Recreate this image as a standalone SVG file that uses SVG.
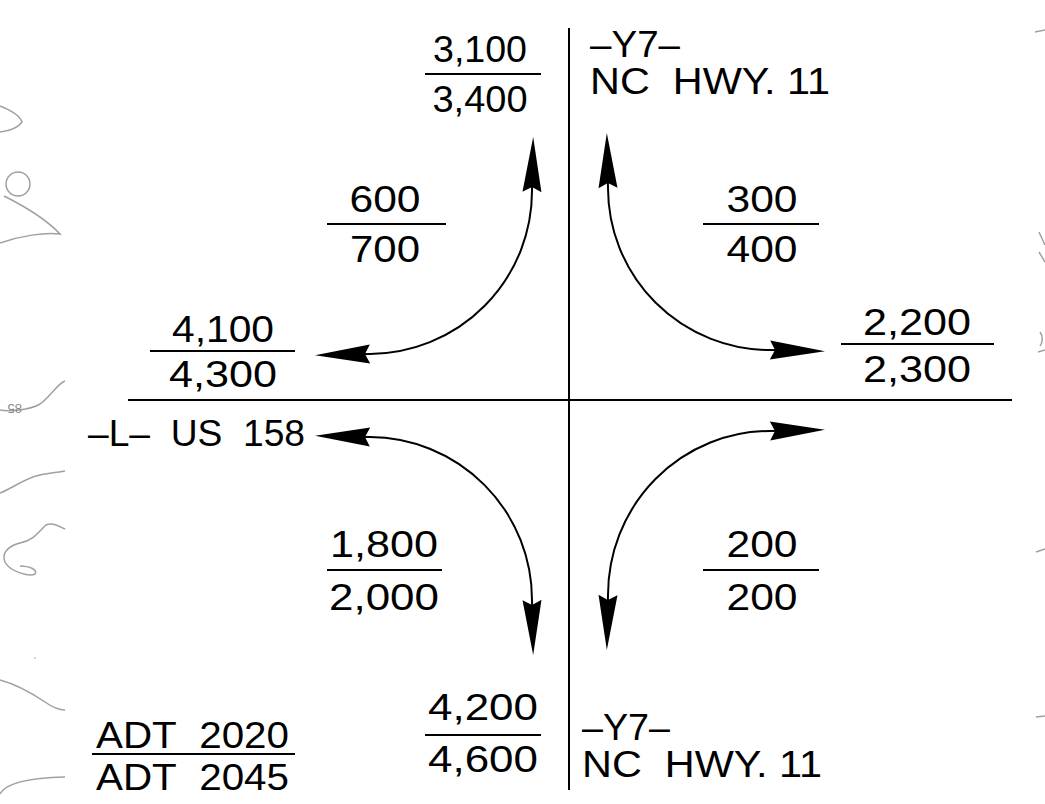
<svg xmlns="http://www.w3.org/2000/svg" width="1045" height="804" viewBox="0 0 1045 804">
<style>
text{font-family:"Liberation Sans",Arial,sans-serif;font-size:37px;fill:#000}
.c{text-anchor:middle}
.rule{stroke:#000;stroke-width:2;fill:none}
.road{stroke:#000;stroke-width:2;fill:none}
.flow{stroke:#000;stroke-width:2;fill:none;marker-start:url(#ah);marker-end:url(#ah)}
.topo{stroke:#a0a0a0;stroke-width:1.5;fill:none}
.topot{font-size:13px;fill:#8a8a8a}
</style>
<defs>
<marker id="ah" markerUnits="userSpaceOnUse" markerWidth="56" markerHeight="20" refX="47" refY="10" orient="auto-start-reverse" overflow="visible">
<path d="M55,10 L0,0.5 L5,10 L0,19.5 Z" fill="#000"/>
</marker>
</defs>
<rect width="1045" height="804" fill="#fff"/>
<g id="topo">
<path class="topo" d="M0,106 C10,110 20,116 22,122 C18,128 8,131 0,132"/>
<circle class="topo" cx="18" cy="184" r="12"/>
<path class="topo" d="M4,196 C20,204 45,218 60,234 C45,232 20,236 0,243"/>
<path class="topo" d="M0,410 C8,412 30,410 40,404 C50,397 57,384 65,381"/>
<text class="topot" x="22" y="412" transform="rotate(180 22 408)">85</text>
<path class="topo" d="M0,493 C15,487 25,478 40,475 C50,473 60,472 65,471"/>
<path class="topo" d="M65,529 C58,526 52,522 46,525 C40,530 35,540 20,543 C5,547 2,555 5,562 C10,572 30,577 35,574 C38,570 30,566 20,566"/>
<circle cx="35" cy="658" r="0.8" fill="#a0a0a0"/>
<path class="topo" d="M0,680 C15,684 30,692 45,702 C52,707 60,710 65,710"/>
<path class="topo" d="M0,794 C5,784 25,778 65,777"/>
<path class="topo" d="M1035,32 L1045,30"/>
<path class="topo" d="M1039,232 L1045,245"/>
<path class="topo" d="M1039,252 L1045,262"/>
<path class="topo" d="M1040,332 C1043,336 1043,342 1040,346"/>
<path class="topo" d="M1038,352 L1045,350"/>
<path class="topo" d="M1036,552 L1045,549"/>
<path class="topo" d="M1036,717 L1045,716"/>
</g>
<g id="roads">
<line class="road" x1="569" y1="28" x2="569" y2="790"/>
<line class="road" x1="128" y1="400" x2="1012" y2="400"/>
</g>
<g id="connectors">
<path class="flow" d="M533,145 L532,190 A163,163 0 0 1 370,354 L323,355"/>
<path class="flow" d="M607,141 L608,188 A162,162 0 0 0 770,350 L817,351"/>
<path class="flow" d="M323,436 L370,437 A163,163 0 0 1 532,600 L533,647"/>
<path class="flow" d="M817,430 L770,431 A162,164 0 0 0 608,595 L607,642"/>
</g>
<g id="n-north">
<text class="c" x="480" y="62" textLength="94" lengthAdjust="spacingAndGlyphs">3,100</text>
<line class="rule" x1="425" y1="74" x2="541" y2="74"/>
<text class="c" x="480" y="112" textLength="95" lengthAdjust="spacingAndGlyphs">3,400</text>
</g>
<g id="n-north-label">
<text x="590" y="57" textLength="90" lengthAdjust="spacingAndGlyphs">–Y7–</text>
<text x="590" y="94" textLength="240" lengthAdjust="spacingAndGlyphs">NC&#160; HWY. 11</text>
</g>
<g id="n-nw">
<text class="c" x="385" y="212" textLength="71" lengthAdjust="spacingAndGlyphs">600</text>
<line class="rule" x1="327" y1="224" x2="446" y2="224"/>
<text class="c" x="385" y="262" textLength="70" lengthAdjust="spacingAndGlyphs">700</text>
</g>
<g id="n-ne">
<text class="c" x="762" y="212" textLength="71" lengthAdjust="spacingAndGlyphs">300</text>
<line class="rule" x1="703" y1="224" x2="819" y2="224"/>
<text class="c" x="762" y="262" textLength="71" lengthAdjust="spacingAndGlyphs">400</text>
</g>
<g id="n-west">
<text class="c" x="223" y="342" textLength="102" lengthAdjust="spacingAndGlyphs">4,100</text>
<line class="rule" x1="150" y1="351" x2="295" y2="351"/>
<text class="c" x="223" y="387" textLength="108" lengthAdjust="spacingAndGlyphs">4,300</text>
</g>
<g id="n-east">
<text class="c" x="917" y="335" textLength="108" lengthAdjust="spacingAndGlyphs">2,200</text>
<line class="rule" x1="841" y1="344" x2="994" y2="344"/>
<text class="c" x="917" y="382" textLength="108" lengthAdjust="spacingAndGlyphs">2,300</text>
</g>
<g id="n-west-label">
<text x="88" y="446" textLength="217" lengthAdjust="spacingAndGlyphs">–L–&#160; US&#160; 158</text>
</g>
<g id="n-sw">
<text class="c" x="384" y="557" textLength="108" lengthAdjust="spacingAndGlyphs">1,800</text>
<line class="rule" x1="327" y1="570" x2="442" y2="570"/>
<text class="c" x="384" y="610" textLength="110" lengthAdjust="spacingAndGlyphs">2,000</text>
</g>
<g id="n-se">
<text class="c" x="762" y="557" textLength="71" lengthAdjust="spacingAndGlyphs">200</text>
<line class="rule" x1="703" y1="570" x2="819" y2="570"/>
<text class="c" x="762" y="610" textLength="71" lengthAdjust="spacingAndGlyphs">200</text>
</g>
<g id="n-south">
<text class="c" x="483" y="720" textLength="110" lengthAdjust="spacingAndGlyphs">4,200</text>
<line class="rule" x1="425" y1="735" x2="541" y2="735"/>
<text class="c" x="483" y="772" textLength="110" lengthAdjust="spacingAndGlyphs">4,600</text>
</g>
<g id="n-south-label">
<text x="582" y="740" textLength="88" lengthAdjust="spacingAndGlyphs">–Y7–</text>
<text x="582" y="777" textLength="240" lengthAdjust="spacingAndGlyphs">NC&#160; HWY. 11</text>
</g>
<g id="legend">
<text x="96" y="748" textLength="193" lengthAdjust="spacingAndGlyphs">ADT&#160; 2020</text>
<line class="rule" x1="92" y1="754" x2="295" y2="754"/>
<text x="96" y="790" textLength="193" lengthAdjust="spacingAndGlyphs">ADT&#160; 2045</text>
</g>
</svg>
